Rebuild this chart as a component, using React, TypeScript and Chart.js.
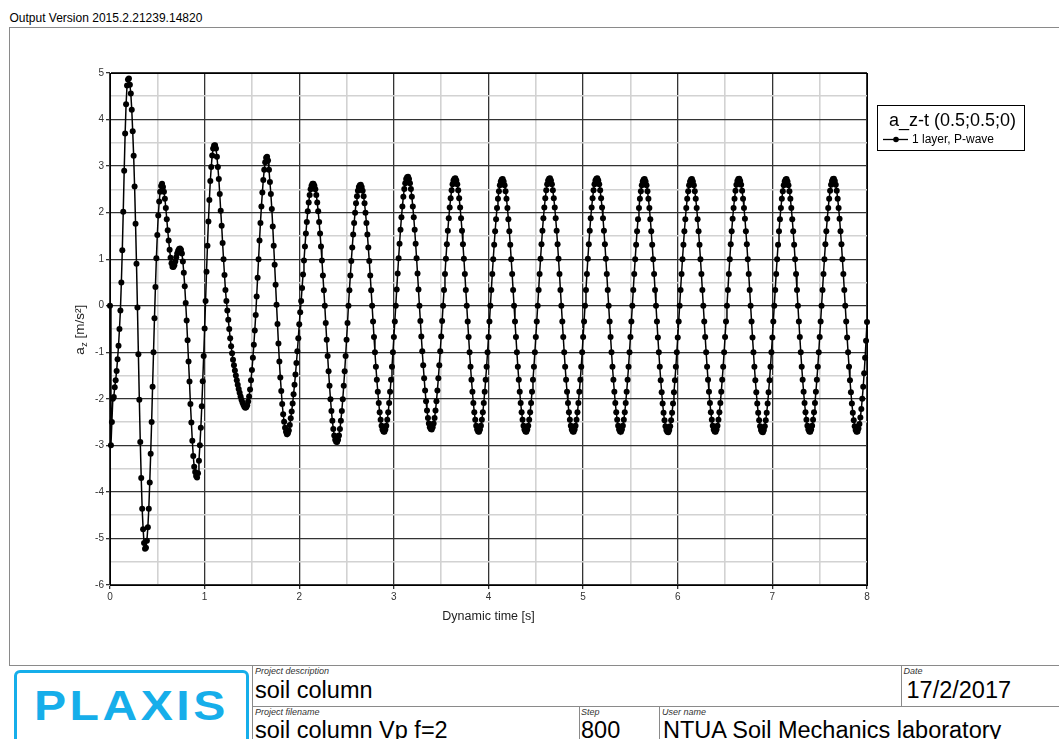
import React, { useEffect, useRef } from 'react';
import { Chart, registerables } from 'chart.js';

Chart.register(...registerables);

// Vertical acceleration a_z at point (0.5;0.5;0), one value per calculation step.
const TIME_STEP = 0.01; // s between saved steps
const TIME_MIN = 0;
const TIME_MAX = 8;
const AZ_MIN = -6;
const AZ_MAX = 5;

// 0.00 - 0.99 s
const az_0 = [
  0, -3.0, -2.5, -2.0, -1.96, -1.75, -1.6, -1.4, -1.15, -0.86,
  -0.5, -0.1, 0.5, 1.19, 2.02, 2.9, 3.7, 4.33, 4.73, 4.86,
  4.88, 4.75, 4.56, 4.21, 3.75, 3.22, 2.56, 1.76, 0.9, -0.04,
  -1.04, -2.02, -2.93, -3.7, -4.36, -4.8, -5.1, -5.22, -5.2, -5.05,
  -4.76, -4.36, -3.8, -3.18, -2.5, -1.74, -1.0, -0.27, 0.4, 1.02,
  1.52, 1.94, 2.24, 2.45, 2.57, 2.62, 2.55, 2.45, 2.3, 2.1,
  1.86, 1.62, 1.4, 1.2, 1.03, 0.91, 0.84, 0.83, 0.87, 0.95,
  1.04, 1.12, 1.18, 1.22, 1.23, 1.2, 1.12, 0.95, 0.71, 0.42,
  0.06, -0.32, -0.74, -1.2, -1.63, -2.11, -2.51, -2.9, -3.23, -3.46,
  -3.57, -3.66, -3.69, -3.6, -3.33, -3.0, -2.62, -2.16, -1.62, -1.08,
];

// 1.00 - 1.99 s
const az_1 = [
  -0.49, 0.1, 0.73, 1.29, 1.81, 2.27, 2.68, 2.98, 3.23, 3.38,
  3.44, 3.45, 3.38, 3.2, 2.98, 2.72, 2.4, 2.04, 1.72, 1.35,
  1.0, 0.66, 0.34, 0.1, -0.1, -0.3, -0.5, -0.7, -0.87, -1.02,
  -1.16, -1.28, -1.39, -1.5, -1.6, -1.7, -1.79, -1.87, -1.95, -2.02,
  -2.08, -2.13, -2.17, -2.19, -2.18, -2.14, -2.06, -1.95, -1.8, -1.6,
  -1.38, -1.12, -0.84, -0.53, -0.2, 0.2, 0.6, 1.0, 1.4, 1.78,
  2.13, 2.43, 2.7, 2.92, 3.08, 3.18, 3.2, 3.12, 2.92, 2.66,
  2.4, 2.08, 1.7, 1.29, 0.88, 0.45, 0.02, -0.39, -0.81, -1.2,
  -1.54, -1.83, -2.11, -2.33, -2.49, -2.62, -2.71, -2.76, -2.74, -2.68,
  -2.56, -2.42, -2.27, -2.1, -1.9, -1.7, -1.48, -1.23, -0.98, -0.7,
];

// 2.00 - 2.99 s
const az_2 = [
  -0.4, -0.14,
  0.1, 0.38, 0.67, 0.97, 1.27, 1.55, 1.8, 2.03, 2.22, 2.38, 2.5, 2.58, 2.62,
  2.62, 2.58, 2.5, 2.38, 2.22, 2.03, 1.8, 1.55, 1.27, 0.97, 0.65, 0.33,
  0.0, -0.37, -0.73, -1.08, -1.41, -1.72, -2.01, -2.26, -2.47, -2.65, -2.79, -2.88, -2.92,
  -2.93, -2.88, -2.79, -2.65, -2.47, -2.26, -2.01, -1.72, -1.41, -1.08, -0.73, -0.37,
  0.0, 0.33, 0.65, 0.96, 1.25, 1.53, 1.78, 2.0, 2.2, 2.35, 2.47, 2.55, 2.59,
  2.6, 2.55, 2.47, 2.35, 2.2, 2.0, 1.78, 1.53, 1.25, 0.96, 0.65, 0.33,
  0.0, -0.34, -0.67, -1.0, -1.31, -1.59, -1.85, -2.09, -2.29, -2.45, -2.58, -2.66, -2.7,
  -2.71, -2.66, -2.58, -2.45, -2.29, -2.09, -1.85, -1.59, -1.31, -1.0,
];

// 3.00 - 3.99 s
const az_3 = [
  -0.67, -0.34,
  0.0, 0.35, 0.69, 1.02, 1.33, 1.63, 1.9, 2.13, 2.34, 2.51, 2.63, 2.72, 2.76,
  2.77, 2.72, 2.63, 2.51, 2.34, 2.13, 1.9, 1.63, 1.33, 1.02, 0.69, 0.35,
  0.0, -0.33, -0.66, -0.98, -1.28, -1.56, -1.82, -2.05, -2.25, -2.41, -2.53, -2.61, -2.65,
  -2.66, -2.61, -2.53, -2.41, -2.25, -2.05, -1.82, -1.56, -1.28, -0.98, -0.66, -0.33,
  0.0, 0.34, 0.68, 1.01, 1.32, 1.61, 1.88, 2.11, 2.31, 2.48, 2.61, 2.69, 2.73,
  2.74, 2.69, 2.61, 2.48, 2.31, 2.11, 1.88, 1.61, 1.32, 1.01, 0.68, 0.34,
  0.0, -0.34, -0.67, -1.0, -1.31, -1.59, -1.85, -2.09, -2.29, -2.45, -2.58, -2.66, -2.7,
  -2.71, -2.66, -2.58, -2.45, -2.29, -2.09, -1.85, -1.59, -1.31, -1.0,
];

// 4.00 - 4.99 s
const az_4 = [
  -0.67, -0.34,
  0.0, 0.34, 0.68, 1.0, 1.31, 1.6, 1.86, 2.1, 2.3, 2.46, 2.59, 2.67, 2.71,
  2.72, 2.67, 2.59, 2.46, 2.3, 2.1, 1.86, 1.6, 1.31, 1.0, 0.68, 0.34,
  0.0, -0.34, -0.67, -1.0, -1.31, -1.59, -1.85, -2.09, -2.29, -2.45, -2.58, -2.66, -2.7,
  -2.71, -2.66, -2.58, -2.45, -2.29, -2.09, -1.85, -1.59, -1.31, -1.0, -0.67, -0.34,
  0.0, 0.34, 0.68, 1.01, 1.32, 1.61, 1.88, 2.11, 2.31, 2.48, 2.61, 2.69, 2.73,
  2.74, 2.69, 2.61, 2.48, 2.31, 2.11, 1.88, 1.61, 1.32, 1.01, 0.68, 0.34,
  0.0, -0.34, -0.67, -1.0, -1.31, -1.59, -1.85, -2.09, -2.29, -2.45, -2.58, -2.66, -2.7,
  -2.71, -2.66, -2.58, -2.45, -2.29, -2.09, -1.85, -1.59, -1.31, -1.0,
];

// 5.00 - 5.99 s
const az_5 = [
  -0.67, -0.34,
  0.0, 0.34, 0.68, 1.01, 1.32, 1.61, 1.88, 2.11, 2.31, 2.48, 2.61, 2.69, 2.73,
  2.74, 2.69, 2.61, 2.48, 2.31, 2.11, 1.88, 1.61, 1.32, 1.01, 0.68, 0.34,
  0.0, -0.34, -0.67, -1.0, -1.31, -1.59, -1.85, -2.09, -2.29, -2.45, -2.58, -2.66, -2.7,
  -2.71, -2.66, -2.58, -2.45, -2.29, -2.09, -1.85, -1.59, -1.31, -1.0, -0.67, -0.34,
  0.0, 0.34, 0.68, 1.0, 1.31, 1.6, 1.86, 2.1, 2.3, 2.46, 2.59, 2.67, 2.71,
  2.72, 2.67, 2.59, 2.46, 2.3, 2.1, 1.86, 1.6, 1.31, 1.0, 0.68, 0.34,
  0.0, -0.34, -0.68, -1.0, -1.31, -1.6, -1.86, -2.1, -2.3, -2.46, -2.59, -2.67, -2.71,
  -2.72, -2.67, -2.59, -2.46, -2.3, -2.1, -1.86, -1.6, -1.31, -1.0,
];

// 6.00 - 6.99 s
const az_6 = [
  -0.68, -0.34,
  0.0, 0.34, 0.68, 1.0, 1.31, 1.6, 1.86, 2.1, 2.3, 2.46, 2.59, 2.67, 2.71,
  2.72, 2.67, 2.59, 2.46, 2.3, 2.1, 1.86, 1.6, 1.31, 1.0, 0.68, 0.34,
  0.0, -0.34, -0.67, -1.0, -1.31, -1.59, -1.85, -2.09, -2.29, -2.45, -2.58, -2.66, -2.7,
  -2.71, -2.66, -2.58, -2.45, -2.29, -2.09, -1.85, -1.59, -1.31, -1.0, -0.67, -0.34,
  0.0, 0.34, 0.68, 1.0, 1.32, 1.6, 1.87, 2.1, 2.3, 2.47, 2.6, 2.68, 2.72,
  2.73, 2.68, 2.6, 2.47, 2.3, 2.1, 1.87, 1.6, 1.32, 1.0, 0.68, 0.34,
  0.0, -0.34, -0.68, -1.0, -1.31, -1.6, -1.86, -2.1, -2.3, -2.46, -2.59, -2.67, -2.71,
  -2.72, -2.67, -2.59, -2.46, -2.3, -2.1, -1.86, -1.6, -1.31, -1.0,
];

// 7.00 - 8.00 s
const az_7 = [
  -0.68, -0.34,
  0.0, 0.34, 0.68, 1.0, 1.31, 1.6, 1.86, 2.1, 2.3, 2.46, 2.59, 2.67, 2.71,
  2.72, 2.67, 2.59, 2.46, 2.3, 2.1, 1.86, 1.6, 1.31, 1.0, 0.68, 0.34,
  0.0, -0.34, -0.67, -1.0, -1.31, -1.59, -1.85, -2.09, -2.29, -2.45, -2.58, -2.66, -2.7,
  -2.71, -2.66, -2.58, -2.45, -2.29, -2.09, -1.85, -1.59, -1.31, -1.0, -0.67, -0.34,
  0.0, 0.34, 0.68, 1.0, 1.32, 1.6, 1.87, 2.1, 2.3, 2.47, 2.6, 2.68, 2.72,
  2.73, 2.68, 2.6, 2.47, 2.3, 2.1, 1.87, 1.6, 1.32, 1.0, 0.68, 0.34,
  0.0, -0.34, -0.68, -1.0, -1.31, -1.6, -1.86, -2.1, -2.3, -2.46, -2.59, -2.67, -2.71,
  -2.7, -2.64, -2.54, -2.4, -2.22, -2.0, -1.74, -1.45, -1.12, -0.75, -0.35,
];

const SERIES_LABEL = '1 layer, P-wave';
const CURVE_TITLE = 'a_z-t (0.5;0.5;0)';
const X_TITLE = 'Dynamic time [s]';

const FONT = '"Liberation Sans", Arial, sans-serif';

const azValues = [...az_0, ...az_1, ...az_2, ...az_3, ...az_4, ...az_5, ...az_6, ...az_7];
const curvePoints = azValues.map((v, i) => ({ x: Math.round(i * TIME_STEP * 100) / 100, y: v }));

const isMajor = (v: number) => Math.abs(v - Math.round(v)) < 1e-6;

// Axis titles, plot frame and the curve legend box.
const decorPlugin = {
  id: 'plaxisDecor',
  afterDraw(chart: any) {
    const { ctx, chartArea } = chart;
    ctx.save();

    // plot frame
    ctx.strokeStyle = '#000';
    ctx.lineWidth = 1;
    ctx.strokeRect(Math.round(chartArea.left) + 0.5, Math.round(chartArea.top) + 0.5,
      Math.round(chartArea.right - chartArea.left), Math.round(chartArea.bottom - chartArea.top));

    // x axis title
    ctx.fillStyle = '#222';
    ctx.font = `12.5px ${FONT}`;
    ctx.textAlign = 'center';
    ctx.textBaseline = 'middle';
    ctx.fillText(X_TITLE, (chartArea.left + chartArea.right) / 2, 617);

    // y axis title with subscript
    ctx.save();
    ctx.translate(80, (chartArea.top + chartArea.bottom) / 2 + 1);
    ctx.rotate(-Math.PI / 2);
    ctx.textAlign = 'left';
    ctx.textBaseline = 'middle';
    const big = `13.5px ${FONT}`;
    const small = `9px ${FONT}`;
    ctx.font = big;
    const wA = ctx.measureText('a').width;
    const rest = ' [m/s\u00b2]';
    const wRest = ctx.measureText(rest).width;
    ctx.font = small;
    const wZ = ctx.measureText('z').width;
    const x0 = -(wA + wZ + wRest) / 2;
    ctx.font = big;
    ctx.fillText('a', x0, 0);
    ctx.font = small;
    ctx.fillText('z', x0 + wA + 0.5, 4.5);
    ctx.font = big;
    ctx.fillText(rest, x0 + wA + wZ + 0.5, 0);
    ctx.restore();

    // legend box
    const bx = 877.5, by = 105.5, bw = 147, bh = 45;
    ctx.fillStyle = '#fff';
    ctx.fillRect(bx, by, bw, bh);
    ctx.strokeStyle = '#000';
    ctx.lineWidth = 1;
    ctx.strokeRect(bx, by, bw, bh);
    ctx.fillStyle = '#000';
    ctx.font = `18px ${FONT}`;
    ctx.textAlign = 'center';
    ctx.textBaseline = 'middle';
    ctx.fillText(CURVE_TITLE, bx + bw / 2 + 1.5, 121);
    const ds = chart.data.datasets[0];
    ctx.strokeStyle = ds.borderColor;
    ctx.lineWidth = 1.3;
    ctx.beginPath();
    ctx.moveTo(883, 139.5);
    ctx.lineTo(908, 139.5);
    ctx.stroke();
    ctx.fillStyle = ds.pointBackgroundColor;
    ctx.beginPath();
    ctx.arc(896, 139.5, 2.8, 0, Math.PI * 2);
    ctx.fill();
    ctx.fillStyle = '#000';
    ctx.font = `12px ${FONT}`;
    ctx.textAlign = 'left';
    ctx.fillText(ds.label, 912, 140);

    ctx.restore();
  },
};

function AccelerationChart() {
  const canvasRef = useRef<HTMLCanvasElement | null>(null);

  useEffect(() => {
    if (!canvasRef.current) return;
    const gridColor = (c: any) => (isMajor(c.tick.value) ? '#333' : '#d2d2d2');
    const gridWidth = (c: any) => (isMajor(c.tick.value) ? 1.3 : 1.6);
    const tickColor = (c: any) => (isMajor(c.tick.value) ? '#333' : 'rgba(0,0,0,0)');
    const label = (v: any) => (isMajor(Number(v)) ? String(Math.round(Number(v))) : '');

    const chart = new Chart(canvasRef.current, {
      type: 'line',
      data: {
        datasets: [
          {
            label: SERIES_LABEL,
            data: curvePoints,
            borderColor: '#000',
            borderWidth: 1.5,
            pointRadius: 3,
            pointBackgroundColor: '#000',
            pointBorderWidth: 0,
            tension: 0,
            clip: 4,
          },
        ],
      },
      options: {
        responsive: false,
        animation: false,
        parsing: false,
        normalized: true,
        layout: { padding: { left: 0, top: 73, right: 192, bottom: 35 } },
        plugins: {
          legend: { display: false },
          tooltip: { enabled: false },
        },
        scales: {
          x: {
            type: 'linear',
            min: TIME_MIN,
            max: TIME_MAX,
            afterFit: (s: any) => { s.height = 40; },
            ticks: {
              stepSize: 0.5,
              autoSkip: false,
              maxRotation: 0,
              padding: 2,
              color: '#333',
              font: { family: FONT, size: 10 },
              callback: label,
            },
            grid: { color: gridColor, lineWidth: gridWidth, tickColor, tickLength: 4 },
            border: { display: true, color: '#000', width: 1 },
          },
          y: {
            type: 'linear',
            min: AZ_MIN,
            max: AZ_MAX,
            afterFit: (s: any) => { s.width = 110; },
            ticks: {
              stepSize: 0.5,
              autoSkip: false,
              padding: 2,
              color: '#333',
              font: { family: FONT, size: 10 },
              callback: label,
            },
            grid: { color: gridColor, lineWidth: gridWidth, tickColor, tickLength: 4 },
            border: { display: true, color: '#000', width: 1 },
          },
        },
      },
      plugins: [decorPlugin],
    } as any);
    return () => chart.destroy();
  }, []);

  return (
    <canvas
      ref={canvasRef}
      width={1059}
      height={660}
      style={{ position: 'absolute', left: 0, top: 0, width: 1059, height: 660 }}
    />
  );
}

const lineStyle = (left: number, top: number, width: number, height: number): React.CSSProperties => ({
  position: 'absolute', left, top, width, height, background: '#8a8a8a',
});

const textStyle = (left: number, baseline: number, size: number, italic = false): React.CSSProperties => ({
  position: 'absolute',
  left,
  top: baseline - 0.8465 * size,
  fontSize: size,
  lineHeight: `${size}px`,
  fontStyle: italic ? 'italic' : 'normal',
  color: italic ? '#333' : '#000',
  whiteSpace: 'nowrap',
});

export default function App() {
  useEffect(() => {
    document.body.style.margin = '0';
  }, []);

  return (
    <div style={{ position: 'absolute', left: 0, top: 0, width: 1059, height: 739, overflow: 'hidden', background: '#fff', fontFamily: FONT }}>
      <div style={textStyle(9.5, 22.5, 12)}>Output Version 2015.2.21239.14820</div>
      {/* page frame */}
      <div style={lineStyle(9, 27, 1050, 1)} />
      <div style={lineStyle(9, 27, 1, 638)} />
      <AccelerationChart />
      {/* title block */}
      <div style={lineStyle(9, 665, 1050, 1)} />
      <div style={lineStyle(252, 665, 1, 74)} />
      <div style={lineStyle(252, 706, 807, 1)} />
      <div style={lineStyle(901, 665, 1, 41)} />
      <div style={lineStyle(578.5, 706, 1, 33)} />
      <div style={lineStyle(659, 706, 1, 33)} />
      <div style={{ position: 'absolute', left: 14, top: 669.5, width: 228.5, height: 80, border: '3px solid #16aeea', borderRadius: 6, boxSizing: 'content-box' }} />
      <div style={{ position: 'absolute', left: 34, top: 684, fontSize: 43, lineHeight: '43px', fontWeight: 'bold', letterSpacing: 3.1, color: '#16aeea', whiteSpace: 'nowrap', transform: 'scaleX(1.12)', transformOrigin: '0 0' }}>PLAXIS</div>
      <div style={textStyle(255, 674.5, 9, true)}>Project description</div>
      <div style={textStyle(255, 699, 23.5)}>soil column</div>
      <div style={textStyle(255, 716, 9, true)}>Project filename</div>
      <div style={textStyle(255, 738.5, 23.5)}>soil column Vp f=2</div>
      <div style={textStyle(903.5, 674.5, 9, true)}>Date</div>
      <div style={textStyle(906.5, 699, 23.5)}>17/2/2017</div>
      <div style={textStyle(581, 716, 9, true)}>Step</div>
      <div style={textStyle(581, 738.5, 23.5)}>800</div>
      <div style={textStyle(662, 716, 9, true)}>User name</div>
      <div style={textStyle(663, 738.5, 23.5)}>NTUA Soil Mechanics laboratory</div>
    </div>
  );
}
